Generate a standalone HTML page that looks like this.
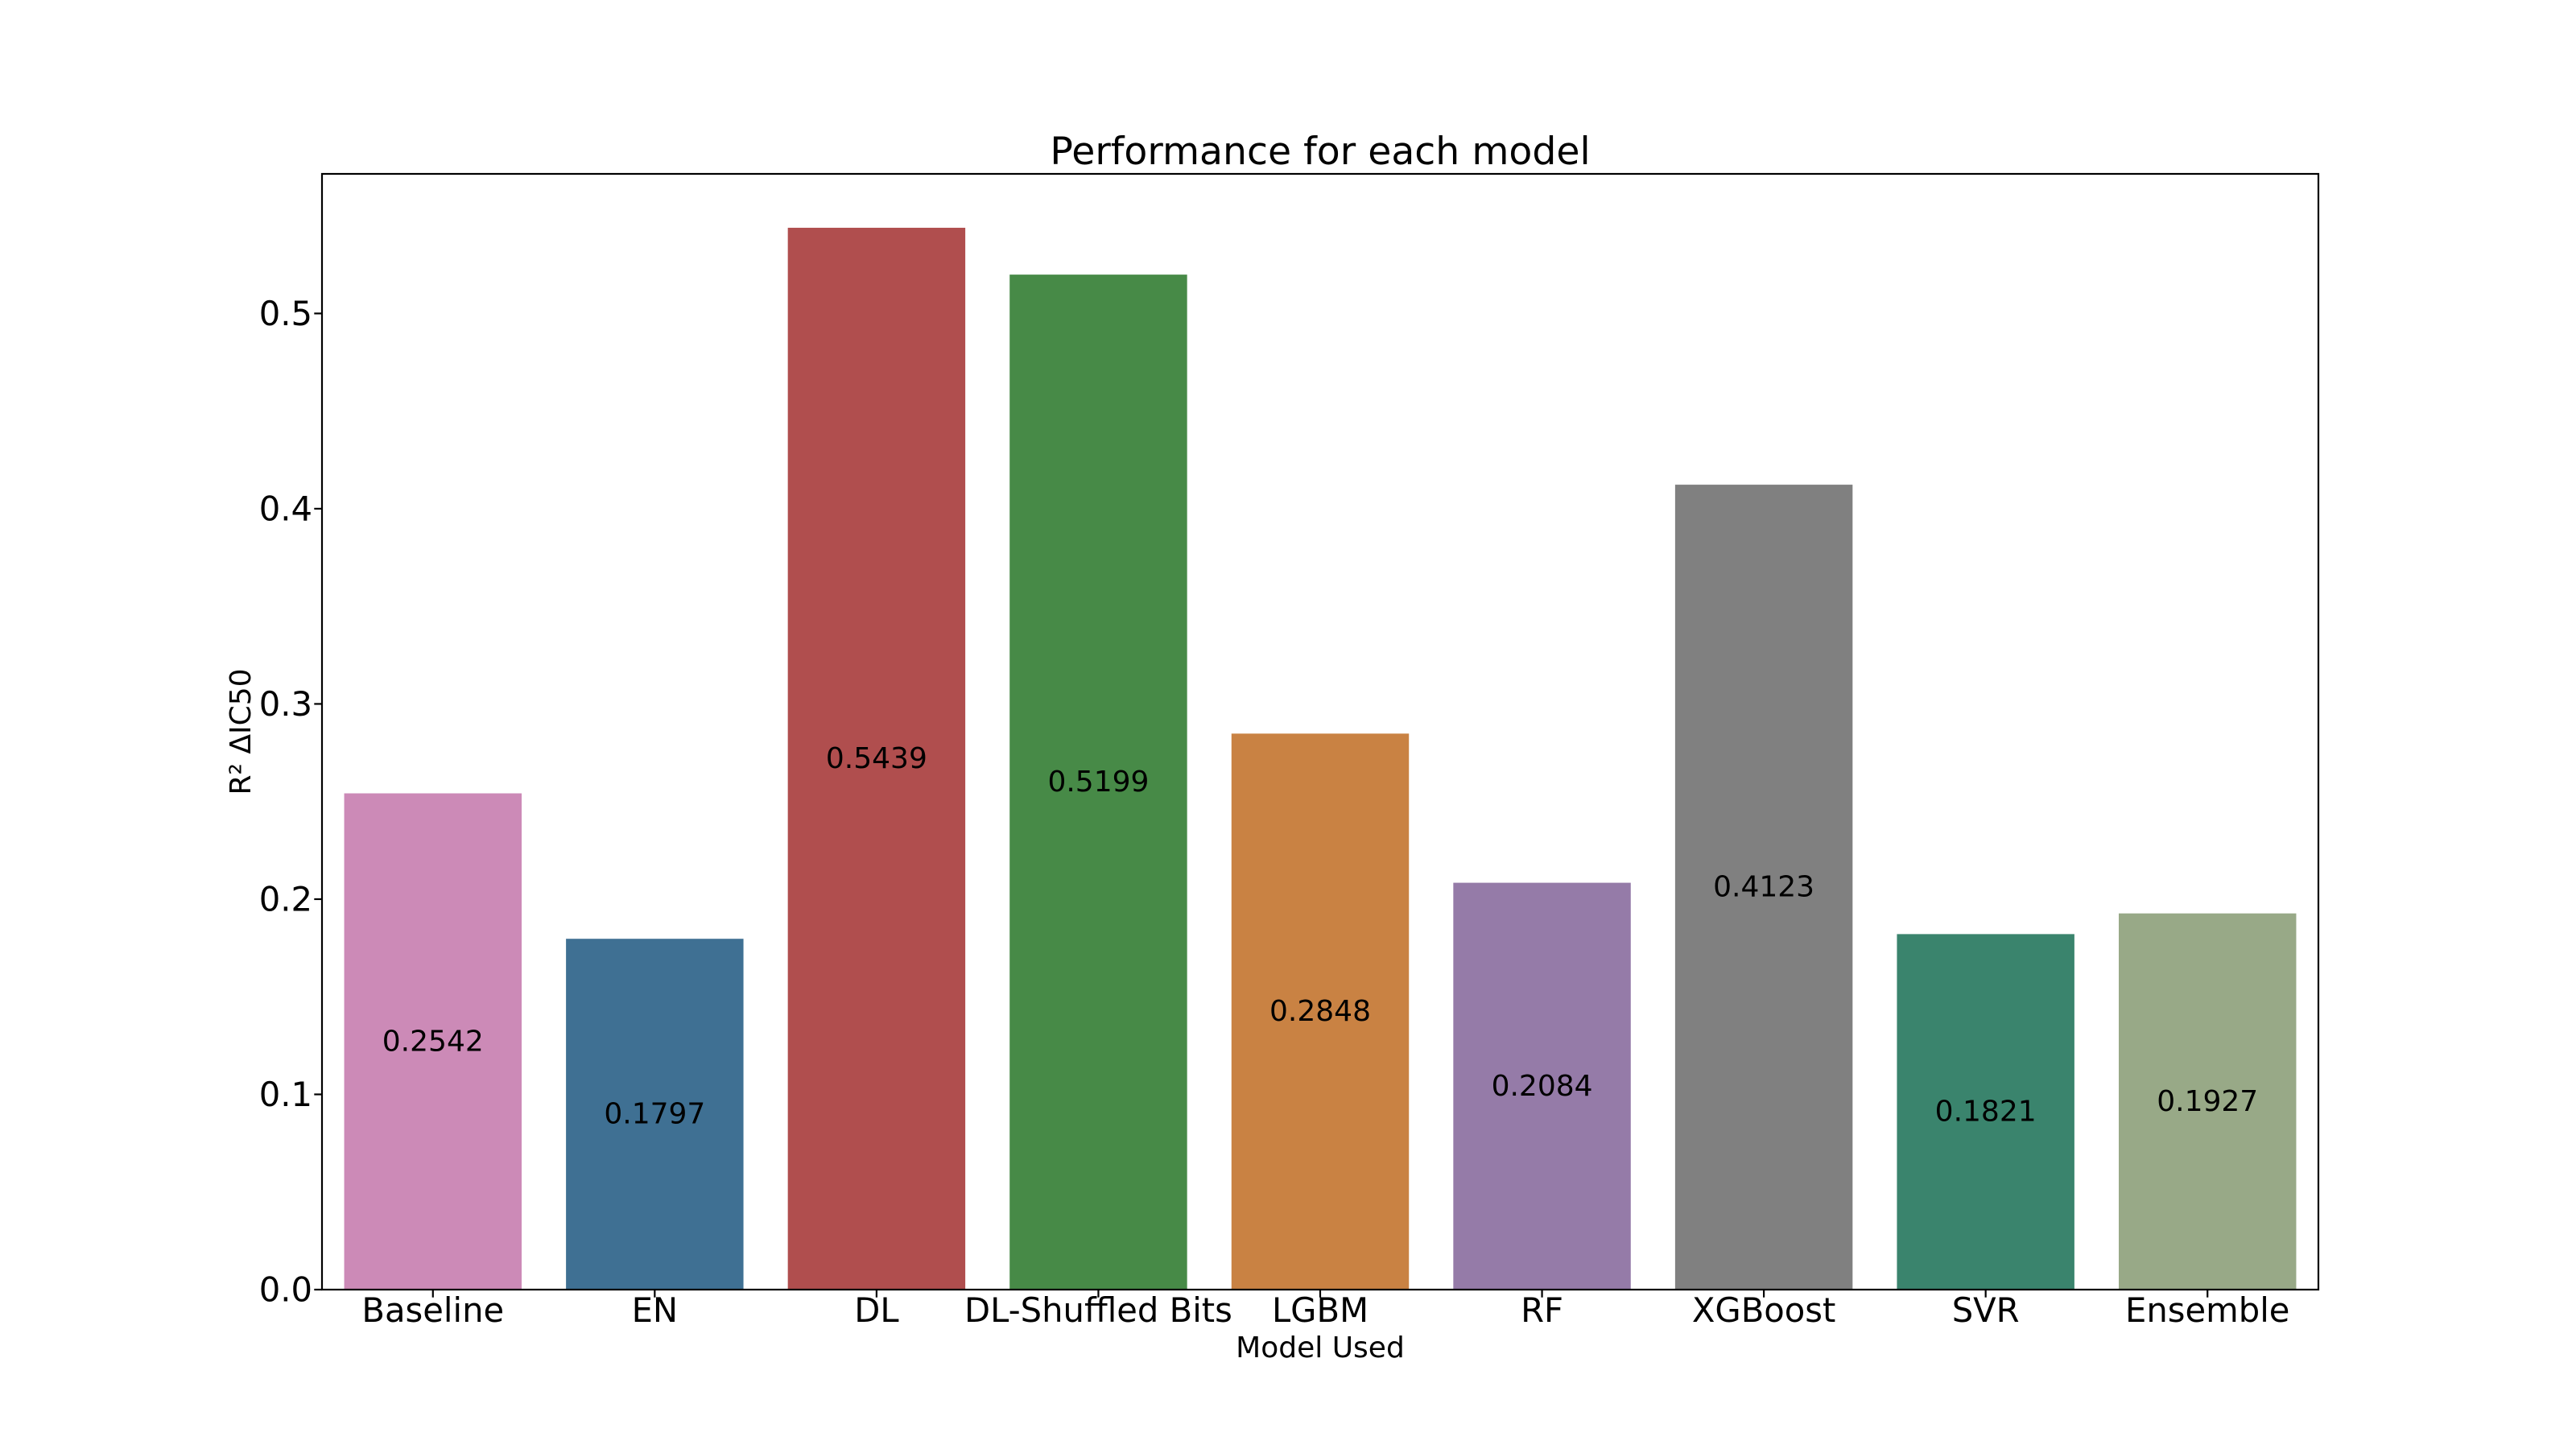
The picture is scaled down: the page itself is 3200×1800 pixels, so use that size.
<!DOCTYPE html>
<html><head><meta charset="utf-8"><style>
html,body{margin:0;padding:0;background:#fff;}
svg{display:block;font-family:"DejaVu Sans","Liberation Sans",sans-serif;}
</style></head><body>
<svg id="chart" width="3200" height="1800" viewBox="0 0 3200 1800" xmlns="http://www.w3.org/2000/svg">
<rect width="3200" height="1800" fill="#fff"/>
<text x="1640" y="204" font-size="47.3" text-anchor="middle">Performance for each model</text>
<text x="1640" y="1686" font-size="36" text-anchor="middle">Model Used</text>
<text x="0" y="0" font-size="36" text-anchor="middle" transform="translate(311,909) rotate(-90)">R² ΔIC50</text>
<g id="bars"></g>
<g id="yticks"></g>
<g id="xticks"></g>
<rect x="400" y="216" width="2480" height="1386" fill="none" stroke="#000" stroke-width="2.2"/>
</svg>
<script>
const categories = ["Baseline","EN","DL","DL-Shuffled Bits","LGBM","RF","XGBoost","SVR","Ensemble"];
const values = [0.2542,0.1797,0.5439,0.5199,0.2848,0.2084,0.4123,0.1821,0.1927];
const valueLabels = ["0.2542","0.1797","0.5439","0.5199","0.2848","0.2084","0.4123","0.1821","0.1927"];
const colors = ["#cc8ab7","#3f7093","#b04e4e","#478a47","#c98243","#957ba8","#808080","#3a846d","#98a987"];
const yTicks = [0,0.1,0.2,0.3,0.4,0.5];
const yTickLabels = ["0.0","0.1","0.2","0.3","0.4","0.5"];

const NS="http://www.w3.org/2000/svg";
const L=400,R=2880,T=216,B=1602,YMAX=0.5715;
const slot=(R-L)/categories.length;
function xPos(i){return L+slot*(i+0.5);}
function yPos(v){return B-(v/YMAX)*(B-T);}
function mk(tag,attrs,parent){const e=document.createElementNS(NS,tag);for(const k in attrs)e.setAttribute(k,attrs[k]);parent.appendChild(e);return e;}
const gb=document.getElementById('bars'),gy=document.getElementById('yticks'),gx=document.getElementById('xticks');
categories.forEach((c,i)=>{
  const w=slot*0.8, x=xPos(i)-w/2, y=yPos(values[i]);
  const r=mk('rect',{x:x,y:y,width:w,height:B-y,fill:colors[i]},gb);
  
  
  const t=mk('text',{x:xPos(i),y:yPos(values[i]/2),'font-size':36,'text-anchor':'middle','dominant-baseline':'central'},gb);
  t.textContent=valueLabels[i];
  
  
  const tk=mk('line',{x1:xPos(i),x2:xPos(i),y1:B,y2:B+9.7,stroke:'#000','stroke-width':2.2},gx);
  
  
  const tl=mk('text',{x:xPos(i),y:1642,'font-size':41.7,'text-anchor':'middle'},gx);
  tl.textContent=c;
  
  
});
yTicks.forEach((v,i)=>{
  const tk=mk('line',{x1:L-9.7,x2:L,y1:yPos(v),y2:yPos(v),stroke:'#000','stroke-width':2.2},gy);
  
  
  const tl=mk('text',{x:388,y:yPos(v),'font-size':41.7,'text-anchor':'end','dominant-baseline':'central'},gy);
  tl.textContent=yTickLabels[i];
  
  
});
</script>
</body></html>
